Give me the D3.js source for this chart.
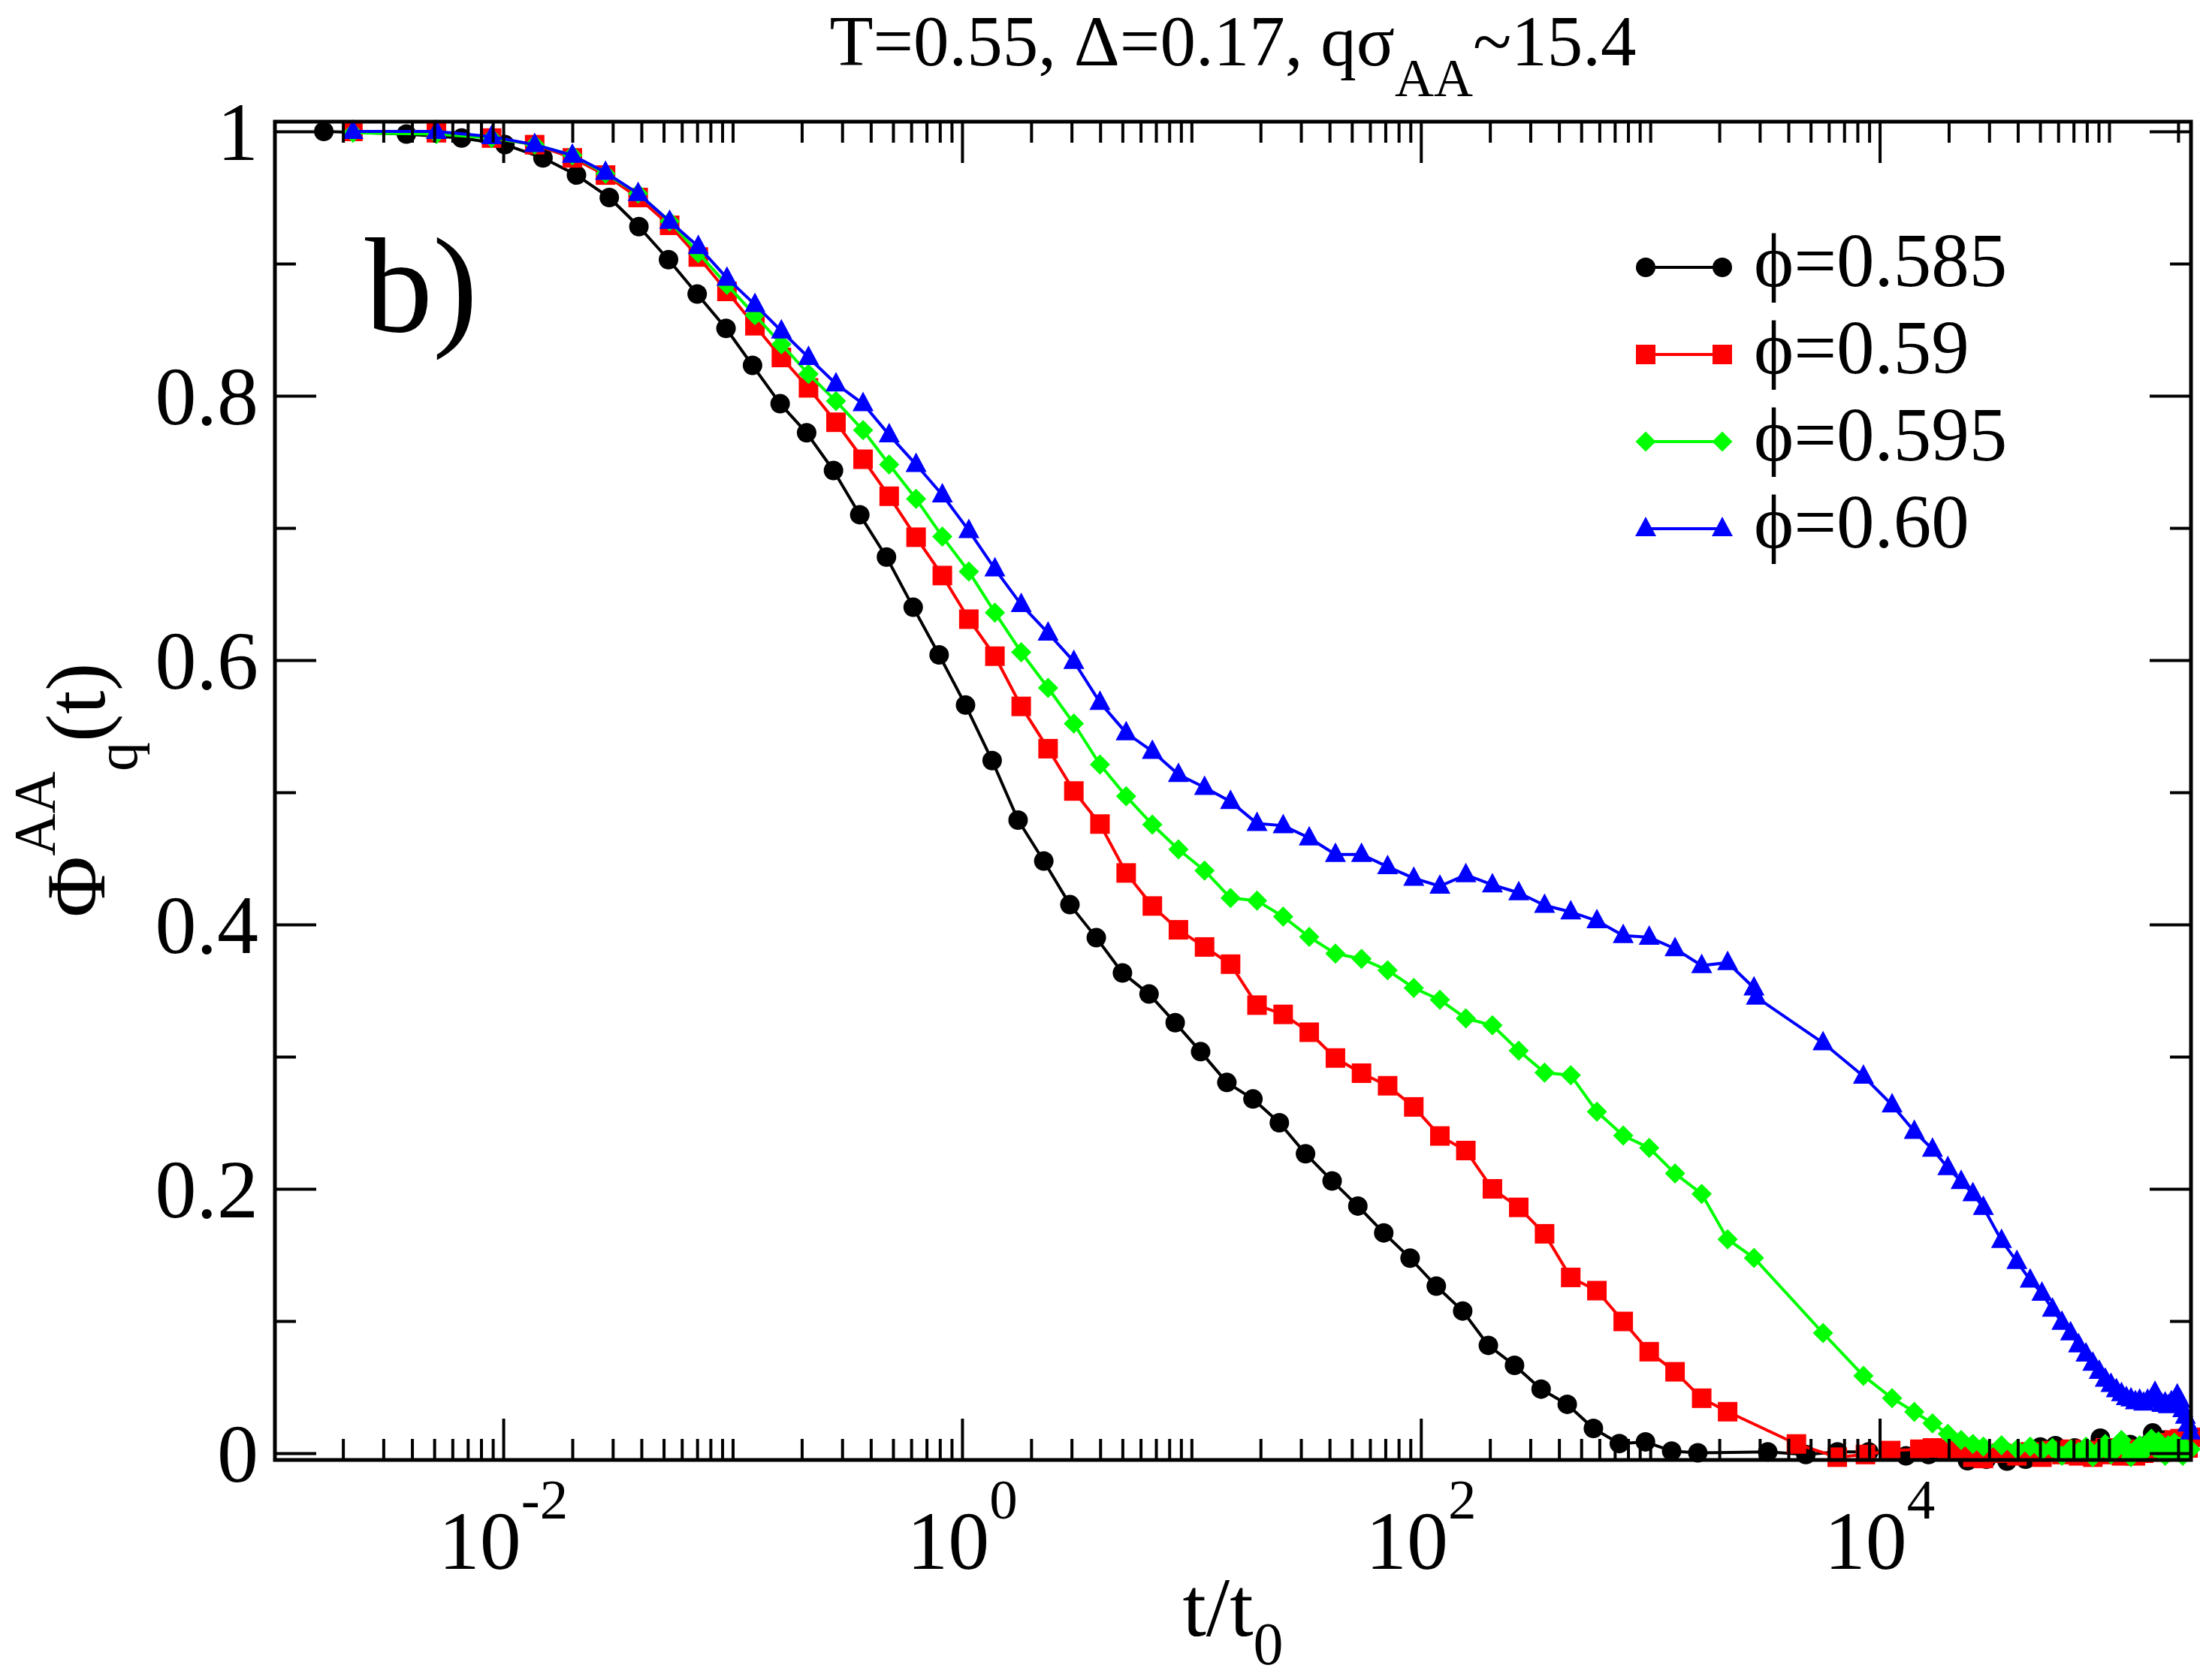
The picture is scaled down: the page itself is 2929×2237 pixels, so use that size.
<!DOCTYPE html>
<html><head><meta charset="utf-8">
<script src="https://cdn.jsdelivr.net/npm/d3@7"></script>
<style>body{margin:0;background:#fff} text{font-family:"Liberation Serif","Times New Roman",Times,serif;}</style>
</head><body>
<svg id="c" width="2929" height="2237"></svg>
<script>
// ---------------- data ----------------
const seriesNames = ["\u03D5=0.585", "\u03D5=0.59", "\u03D5=0.595", "\u03D5=0.60"];
const seriesColors = ["#000000", "#ff0000", "#00ff00", "#0000ff"];
const seriesShapes = ["circle", "square", "diamond", "triangle"];

// time grid shared by phi=0.59, 0.595, 0.60 (log spaced part)
const tShared = [0.00221,0.00511,0.00889,0.0137,0.0200,0.0279,0.0387,0.0531,0.0708,0.0944,0.125,0.163,0.214,0.282,0.370,0.481,0.630,0.820,1.07,1.39,1.81,2.37,3.07,3.99,5.19,6.75,8.77,11.4,14.8,19.3,25.1,32.6,42.4,55.1,71.6,93.1,121,157,205,267,346,450,585,762,989,1282,1675,2173,2831];
// long-time grid (linear part)
const tTail = [5662,8493,11324,14155,16986,19817,22648,25479,28310,33972,39634,45296,50958,56620,62282,67944,73606,79268,84930,90592,96254,101916,107578,113240,118902,124564,130226,135888,141550,147212,152874,158536,164198,169860,175522,181184,186846,192508,198170,203832,209494,215156,220818,226480];

const tBlack = [0.00165,0.00378,0.00658,0.01016,0.01489,0.02084,0.02897,0.0390,0.0525,0.0700,0.0935,0.122,0.161,0.210,0.275,0.358,0.468,0.612,0.794,1.035,1.352,1.754,2.270,2.951,3.846,5.00,6.53,8.49,10.96,14.26,18.53,24.15,31.41,41.02,53.09,68.87,89.74,116.7,152.1,196.8,255.9,334.2,434.5,564.9,732.8,952.8,1239,1611,3251,4764,6546,8954,13030,16330,24150,29170,35890,43250,50120,58340,70790,91620,107200,123600,154900,173800,193600,213800];
const phiBlack = [1.000,0.998,0.995,0.990,0.980,0.967,0.950,0.928,0.903,0.877,0.851,0.823,0.794,0.772,0.7435,0.710,0.678,0.640,0.604,0.566,0.524,0.479,0.448,0.415,0.390,0.3634,0.3474,0.3257,0.3038,0.2805,0.268,0.250,0.2266,0.206,0.187,0.1667,0.1476,0.1264,0.1076,0.0816,0.0665,0.0485,0.037,0.0188,0.0073,0.0086,0.0016,0.0003,0.001,-0.001,0.001,0.001,-0.002,-0.001,-0.0057,-0.0045,-0.006,-0.0045,0.0047,0.0057,0.004,0.0114,0.004,0.0066,0.0153,0.010,0.0085,0.013];

const tRedExtra = [4335,6531,8670,11170,14960];
const phiRed = [1.000,0.999,0.995,0.990,0.980,0.967,0.950,0.929,0.905,0.879,0.853,0.829,0.806,0.780,0.752,0.724,0.693,0.664,0.631,0.603,0.565,0.533,0.501,0.476,0.439,0.414,0.396,0.383,0.370,0.339,0.332,0.3185,0.299,0.2875,0.278,0.262,0.240,0.229,0.200,0.186,0.166,0.133,0.123,0.0997,0.0768,0.0616,0.0416,0.0314,
  0.007,-0.003,-0.001,0.002,0.003,
  0.004,0.003,0.002,-0.003,-0.004,
  0.000,-0.002,0.001,-0.003,0.002,-0.001,0.003,-0.002,0.001,-0.003,0.002,0.004,-0.001,0.002,-0.002,0.001,0.003,-0.002,0.002,0.000,0.004,0.002,0.006,0.003,0.001,0.005,0.008,0.004,0.010,0.006,0.011,0.005,0.009,0.004,0.012];

const phiGreen = [0.999,0.998,0.995,0.990,0.982,0.968,0.953,0.932,0.908,0.884,0.861,0.839,0.8165,0.796,0.774,0.748,0.722,0.6935,0.667,0.636,0.606,0.579,0.552,0.521,0.497,0.4756,0.4568,0.4408,0.420,0.418,0.406,0.3906,0.378,0.374,0.3654,0.352,0.343,0.329,0.3237,0.3045,0.288,0.286,0.2584,0.2403,0.231,0.2116,0.1962,0.1618,0.1478,
  0.0909,0.0586,0.0416,0.0313,0.0226,0.0147,0.010,0.007,0.005,
  0.006,0.003,0.005,0.002,0.004,-0.002,0.003,0.001,0.005,-0.003,0.002,0.007,-0.001,0.004,0.010,0.003,-0.003,0.002,0.006,0.001,0.008,0.011,0.004,0.009,0.002,-0.002,0.006,0.003,0.008,0.001,0.005,-0.002,0.004,0.001,0.003];

const tBlueExtra = [2900];
const phiBlue = [1.000,1.000,0.996,0.990,0.982,0.969,0.953,0.932,0.913,0.889,0.869,0.849,0.829,0.809,0.794,0.7704,0.748,0.725,0.698,0.669,0.642,0.6205,0.599,0.568,0.545,0.531,0.5135,0.5037,0.493,0.4765,0.4748,0.4655,0.453,0.453,0.4437,0.435,0.429,0.4376,0.430,0.424,0.4145,0.4095,0.4028,0.3917,0.3903,0.3817,0.3689,0.3712,0.352,
  0.345,
  0.3105,0.2852,0.2635,0.2435,0.230,0.216,0.2056,0.1963,0.186,
  0.161,0.145,0.131,0.121,0.109,0.099,0.091,0.082,0.075,0.068,0.062,0.056,0.052,0.048,0.045,0.042,0.041,0.039,0.040,0.038,0.040,0.041,0.046,0.040,0.037,0.038,0.036,0.039,0.037,0.044,0.040,0.033,0.028,0.022,0.016];

const tRed = tShared.slice(0, 48).concat(tRedExtra, tTail.slice(4));
const tGreen = tShared.concat(tTail);
const tBlue = tShared.concat(tBlueExtra, tTail);

const xDomain = [0.00101, 227500];
const yDomain = [-0.0051, 1.0074];
const xMajorTicks = [1e-2, 1e0, 1e2, 1e4];
const xTickExponents = ["-2", "0", "2", "4"];
const yMajorTicks = [0, 0.2, 0.4, 0.6, 0.8, 1.0];
const yMinorTicks = [0.1, 0.3, 0.5, 0.7, 0.9];
const yTickLabels = ["0", "0.2", "0.4", "0.6", "0.8", "1"];

// ---------------- drawing ----------------
const L = 366, R = 2917, T = 162, B = 1944;
const svg = d3.select("#c");
svg.append("rect").attr("width", 2929).attr("height", 2237).attr("fill", "#fff");

const x = d3.scaleLog().domain(xDomain).range([L, R]);
const y = d3.scaleLinear().domain(yDomain).range([B, T]);

const shapePaths = {
  circle: d3.symbol().type(d3.symbolCircle).size(Math.PI * 13 * 13)(),
  square: "M-13,-13H13V13H-13Z",
  diamond: "M0,-13.5L13.5,0L0,13.5L-13.5,0Z",
  triangle: "M0,-16L14,10L-14,10Z"
};

const series = [
  {t: tBlack, v: phiBlack},
  {t: tRed, v: phiRed},
  {t: tGreen, v: phiGreen},
  {t: tBlue, v: phiBlue}
].map((s, i) => ({
  name: seriesNames[i], color: seriesColors[i], shape: seriesShapes[i],
  pts: s.t.map((tt, j) => [tt, s.v[j]])
}));

const line = d3.line().x(d => x(d[0])).y(d => y(d[1]));
const gData = svg.append("g");
series.forEach(s => {
  const g = gData.append("g");
  g.append("path").datum(s.pts).attr("d", line)
    .attr("fill", "none").attr("stroke", s.color).attr("stroke-width", 4).attr("stroke-linejoin", "round");
  g.selectAll("path.m").data(s.pts).enter().append("path").attr("class", "m")
    .attr("d", shapePaths[s.shape])
    .attr("transform", d => `translate(${x(d[0])},${y(d[1])})`)
    .attr("fill", s.color);
});

// minor x ticks (2..9 of each decade, plus odd decades)
const xMinorTicks = [];
for (let e = -3; e <= 5; e++) {
  for (let m = 1; m <= 9; m++) {
    const v = m * Math.pow(10, e);
    if (v >= xDomain[0] && v <= xDomain[1] && !xMajorTicks.some(t => Math.abs(t - v) / v < 1e-9)) xMinorTicks.push(v);
  }
}

function styleAxis(g) {
  g.select(".domain").remove();
  g.selectAll(".tick line").attr("stroke", "#000").attr("stroke-width", 4);
  g.selectAll(".tick text").remove();
}
const gAx = svg.append("g");
gAx.append("g").attr("transform", `translate(0,${B})`).call(d3.axisBottom(x).tickValues(xMajorTicks).tickSize(-55).tickFormat("")).call(styleAxis);
gAx.append("g").attr("transform", `translate(0,${B})`).call(d3.axisBottom(x).tickValues(xMinorTicks).tickSize(-28).tickFormat("")).call(styleAxis);
gAx.append("g").attr("transform", `translate(0,${T})`).call(d3.axisTop(x).tickValues(xMajorTicks).tickSize(-55).tickFormat("")).call(styleAxis);
gAx.append("g").attr("transform", `translate(0,${T})`).call(d3.axisTop(x).tickValues(xMinorTicks).tickSize(-28).tickFormat("")).call(styleAxis);
gAx.append("g").attr("transform", `translate(${L},0)`).call(d3.axisLeft(y).tickValues(yMajorTicks).tickSize(-55).tickFormat("")).call(styleAxis);
gAx.append("g").attr("transform", `translate(${L},0)`).call(d3.axisLeft(y).tickValues(yMinorTicks).tickSize(-28).tickFormat("")).call(styleAxis);
gAx.append("g").attr("transform", `translate(${R},0)`).call(d3.axisRight(y).tickValues(yMajorTicks).tickSize(-55).tickFormat("")).call(styleAxis);
gAx.append("g").attr("transform", `translate(${R},0)`).call(d3.axisRight(y).tickValues(yMinorTicks).tickSize(-28).tickFormat("")).call(styleAxis);

svg.append("rect").attr("x", L).attr("y", T).attr("width", R - L).attr("height", B - T)
  .attr("fill", "none").attr("stroke", "#000").attr("stroke-width", 5);

// tick labels
const gLab = svg.append("g").attr("fill", "#000");
xMajorTicks.forEach((v, i) => {
  const tx = gLab.append("text").attr("x", x(v)).attr("y", 2089).attr("text-anchor", "middle").attr("font-size", 110);
  tx.append("tspan").text("10");
  tx.append("tspan").attr("dy", -67).attr("font-size", 75).text(xTickExponents[i]);
});
yMajorTicks.forEach((v, i) => {
  gLab.append("text").attr("x", 344).attr("y", y(v) + 38).attr("text-anchor", "end").attr("font-size", 110).text(yTickLabels[i]);
});

// title
const title = gLab.append("text").attr("x", (L + R) / 2).attr("y", 87).attr("text-anchor", "middle").attr("font-size", 95);
title.append("tspan").text("T=0.55, \u0394=0.17, q\u03C3");
title.append("tspan").attr("dy", 41).attr("font-size", 72).text("AA");
title.append("tspan").attr("dy", -41).text("~15.4");

// x label
const xl = gLab.append("text").attr("x", (L + R) / 2).attr("y", 2178).attr("text-anchor", "middle").attr("font-size", 113);
xl.append("tspan").text("t/t");
xl.append("tspan").attr("dy", 38).attr("font-size", 80).text("0");

// y label
const yl = gLab.append("text").attr("transform", "translate(139,1052) rotate(-90)").attr("text-anchor", "middle").attr("font-size", 112);
yl.append("tspan").text("\u03A6");
yl.append("tspan").attr("dy", -67).attr("font-size", 78).text("AA");
yl.append("tspan").attr("dy", 110).attr("font-size", 78).text("q");
yl.append("tspan").attr("dy", -43).text("(t)");

// panel label
gLab.append("text").attr("x", 486).attr("y", 441).attr("font-size", 180).text("b)");

// legend
const legRows = [356, 472, 588, 704];
const gLeg = svg.append("g");
series.forEach((s, i) => {
  const yy = legRows[i];
  gLeg.append("line").attr("x1", 2191).attr("x2", 2293).attr("y1", yy).attr("y2", yy)
    .attr("stroke", s.color).attr("stroke-width", 4);
  [2191, 2293].forEach(xx => gLeg.append("path").attr("d", shapePaths[s.shape])
    .attr("transform", `translate(${xx},${yy})`).attr("fill", s.color));
  gLeg.append("text").attr("x", 2335).attr("y", yy + 25)
    .attr("font-size", 101).text(s.name);
});
</script>
</body></html>
